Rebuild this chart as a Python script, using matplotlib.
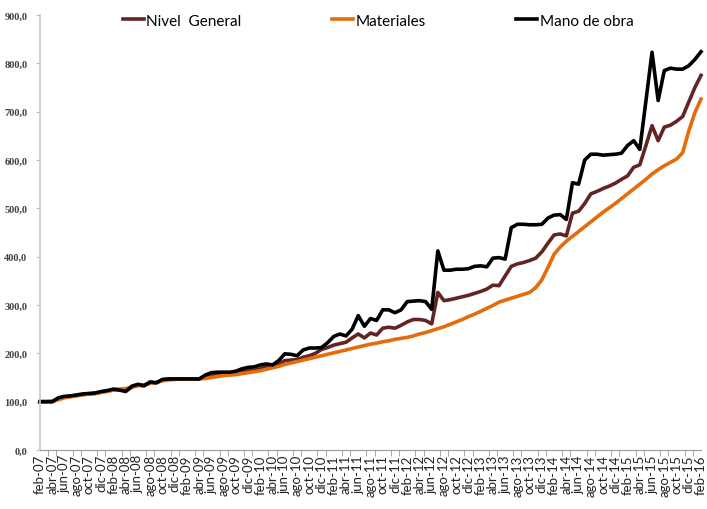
import numpy as np
import matplotlib
matplotlib.use("Agg")
import matplotlib.pyplot as plt

# Monthly index values, feb-07 .. feb-16 (base feb-07 = 100)
meses = ["ene", "feb", "mar", "abr", "may", "jun", "jul", "ago", "sep", "oct", "nov", "dic"]

nivel_general = [
    100, 100, 100, 106, 110, 111, 113, 115, 116, 117,
    120, 122, 125, 125, 122, 130, 134, 133, 139, 139,
    145, 147, 147, 147, 147, 147, 147, 152, 156, 157,
    157, 158, 160, 162, 164, 165, 168, 172, 174, 178,
    185, 186, 187, 192, 195, 200, 208, 212, 217, 220,
    223, 232, 240, 232, 242, 238, 252, 254, 252, 258,
    265, 270, 270, 268, 261, 326, 309, 311, 314, 317,
    320, 324, 328, 333, 341, 340, 360, 380, 385, 388,
    392, 397, 410, 428, 445, 447, 443, 490, 494, 510,
    530, 535, 541, 546, 552, 560, 567, 585, 590, 630,
    671, 640, 668, 672, 680, 690, 720, 750, 775,
]

materiales = [
    100, 100, 101, 104, 108, 110, 112, 114, 116, 117,
    119, 121, 124, 126, 127, 130, 133, 135, 138, 140,
    143, 145, 146, 147, 147, 147, 147, 148, 150, 152,
    154, 155, 156, 158, 160, 162, 164, 167, 170, 173,
    177, 180, 183, 186, 189, 192, 195, 198, 201, 204,
    207, 210, 213, 216, 219, 221, 224, 226, 229, 231,
    233, 236, 240, 243, 247, 251, 255, 260, 265, 270,
    276, 281, 287, 293, 299, 306, 310, 314, 318, 322,
    326, 336, 352, 378, 405, 420, 432, 442, 452, 462,
    472, 482, 492, 501, 510, 520, 530, 540, 550, 560,
    571, 580, 588, 595, 602, 615, 660, 698, 726,
]

mano_de_obra = [
    100, 100, 100, 108, 111, 112, 114, 116, 117, 118,
    121, 123, 126, 124, 121, 132, 136, 133, 141, 139,
    146, 147, 147, 147, 147, 147, 147, 155, 160, 161,
    161, 161, 163, 168, 171, 172, 176, 178, 176, 185,
    199, 198, 195, 207, 211, 211, 212, 222, 235, 240,
    236, 250, 278, 256, 272, 268, 290, 290, 284, 290,
    307, 308, 309, 307, 291, 412, 372, 372, 374, 374,
    375, 380, 381, 379, 397, 398, 395, 460, 467, 467,
    466, 466, 467, 480, 486, 487, 477, 553, 550, 600,
    612, 612, 610, 611, 612, 614, 630, 640, 622, 722,
    823, 723, 785, 790, 788, 788, 795, 808, 824,
]

n = len(materiales)
etiquetas = []
for k in range(n):
    m = (1 + k) % 12
    y = 7 + (1 + k) // 12
    etiquetas.append(f"{meses[m]}-{y:02d}")

x = np.arange(n)

fig = plt.figure(figsize=(7.07, 5.10), dpi=100)
ax = fig.add_axes([40 / 707, 59 / 510, 661 / 707, 435 / 510])

ax.plot(x, nivel_general, color="#632523", lw=2.6, label="Nivel  General", clip_on=False)
ax.plot(x, materiales, color="#E46C0A", lw=2.6, label="Materiales", clip_on=False)
ax.plot(x, mano_de_obra, color="black", lw=2.6, label="Mano de obra", clip_on=False)

ax.set_xlim(0, n - 1)
ax.set_ylim(0, 900)

yt = np.arange(0, 901, 100)
ax.set_yticks(yt)
ax.set_yticklabels([f"{v:.1f}".replace(".", ",") for v in yt],
                   fontfamily="Liberation Serif", fontsize=7.5, fontweight="bold",
                   color="#404040")
ax.tick_params(axis="y", length=3, color="#BFBFBF", pad=6)

ax.set_xticks(x[::2])
ax.set_xticklabels(etiquetas[::2], rotation=90, fontfamily="Lato", fontsize=9.5,
                   color="#222222")
ax.tick_params(axis="x", which="major", length=0, pad=3)
ax.set_xticks(np.arange(0, n - 0.5, 4 / 3), minor=True)
ax.tick_params(axis="x", which="minor", length=4, color="#999999")

for s in ["top", "right"]:
    ax.spines[s].set_visible(False)
ax.spines["left"].set_color("#C8C8C8")
ax.spines["left"].set_linewidth(1.2)
ax.spines["bottom"].set_color("#999999")

fig.legend(loc="upper left", bbox_to_anchor=(109 / 707, 1 - 1 / 510), ncol=3,
           frameon=False, handlelength=1.4, handletextpad=0.15, columnspacing=5.9,
           prop={"family": "Lato", "size": 11})

fig.savefig("out.png", dpi=100)
